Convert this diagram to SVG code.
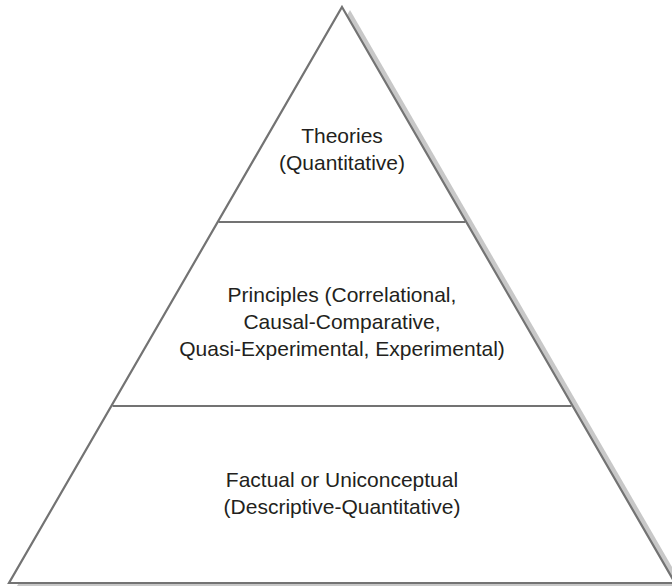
<svg xmlns="http://www.w3.org/2000/svg" width="672" height="587" viewBox="0 0 672 587">
<style>
.t{font-family:"Liberation Sans",Arial,sans-serif;font-size:21px;fill:#231f20;text-anchor:middle}
.ln{stroke:#737373;stroke-width:2.2;fill:none}
</style>
<rect width="672" height="587" fill="#fff"/>
<g id="pyramid">
<polygon points="350,10 683,586 17,586" fill="#c8c8c8"/>
<polygon points="342,7 675,583 9,583" fill="#fff" stroke="#737373" stroke-width="2.2" stroke-linejoin="miter"/>
</g>
<g id="connectors">
<line class="ln" x1="218.5" y1="222" x2="465.5" y2="222"/>
<line class="ln" x1="112.5" y1="406" x2="571.5" y2="406"/>
</g>
<g id="theories">
<text class="t" x="342" y="143">Theories</text>
<text class="t" x="342" y="170">(Quantitative)</text>
</g>
<g id="principles">
<text class="t" x="342" y="302">Principles (Correlational,</text>
<text class="t" x="342" y="329">Causal-Comparative,</text>
<text class="t" x="342" y="356">Quasi-Experimental, Experimental)</text>
</g>
<g id="factual">
<text class="t" x="342" y="487">Factual or Uniconceptual</text>
<text class="t" x="342" y="514">(Descriptive-Quantitative)</text>
</g>
</svg>
